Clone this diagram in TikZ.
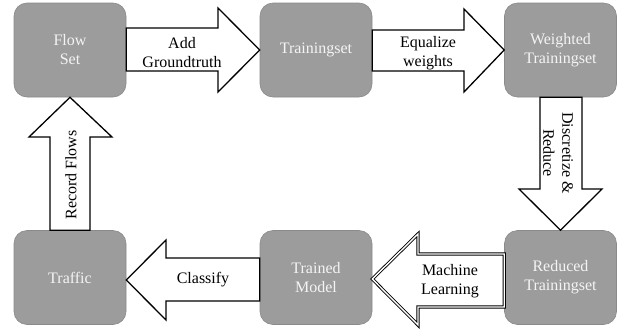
\documentclass[tikz,border=0pt]{standalone}
\usepackage{fontspec}
\setmainfont{Liberation Serif}
\begin{document}
\begin{tikzpicture}[x=1pt,y=-1pt,
  box/.style={draw=boxline,fill=boxfill,rounded corners=13pt,minimum width=112pt,minimum height=94pt,
    text=boxtext,align=center,font=\fontsize{16}{19}\selectfont,line width=0.6pt},
  blk/.style={draw=black,fill=white,line width=1.3pt,line join=miter},
  dbl/.style={draw=black,double=white,double distance=1.4pt,line width=0.9pt,fill=white,line join=miter},
  lbl/.style={align=center,font=\fontsize{16}{19}\selectfont,text=black,inner sep=0pt}]
\definecolor{boxfill}{HTML}{9C9C9C}
\definecolor{boxline}{HTML}{8A8A8A}
\definecolor{boxtext}{HTML}{F4F4F4}
\useasboundingbox (0,0) rectangle (625,330);
% boxes
\node[box] (fs) at (70,50) {Flow\\Set};
\node[box] (ts) at (316,50) {Trainingset};
\node[box] (wt) at (560.5,50) {Weighted\\Trainingset};
\node[box] (tr) at (70,277.5) {Traffic};
\node[box] (tm) at (316,277.5) {Trained\\Model};
\node[box] (rt) at (560.5,277.5) {Reduced\\Trainingset};
% arrows
\draw[blk] (fs.east |- 0,28) -- (218,28) -- (218,8) -- (ts.west) -- (218,92) -- (218,71) -- (fs.east |- 0,71) -- cycle;
\draw[blk] (ts.east |- 0,30) -- (464,30) -- (464,9) -- (wt.west) -- (464,92) -- (464,71) -- (ts.east |- 0,71) -- cycle;
\draw[blk] (540,0 |- wt.south) -- (540,189) -- (519,189) -- (rt.north) -- (602,189) -- (582,189) -- (582,0 |- wt.south) -- cycle;
\draw[blk] (50,0 |- tr.north) -- (50,137) -- (29,137) -- (fs.south) -- (112,137) -- (90,137) -- (90,0 |- tr.north) -- cycle;
\draw[blk] (tm.west |- 0,258) -- (166,258) -- (166,240) -- (tr.east |- 0,280) -- (166,320) -- (166,301) -- (tm.west |- 0,301) -- cycle;
\draw[dbl] (rt.west |- 0,254) -- (418,254) -- (418,234) -- (tm.east |- 0,279) -- (418,325) -- (418,307) -- (rt.west |- 0,307) -- cycle;
% labels
\node[lbl] (l1) at (182,53) {Add\\Groundtruth};
\node[lbl] (l2) at (428,53) {Equalize\\weights};
\node[lbl,rotate=-90] (l3) at (558,153) {Discretize \&\\Reduce};
\node[lbl,rotate=90] (l4) at (71,175) {Record Flows};
\node[lbl] (l5) at (203,280) {Classify};
\node[lbl] (l6) at (450,281) {Machine\\Learning};
\end{tikzpicture}
\end{document}
